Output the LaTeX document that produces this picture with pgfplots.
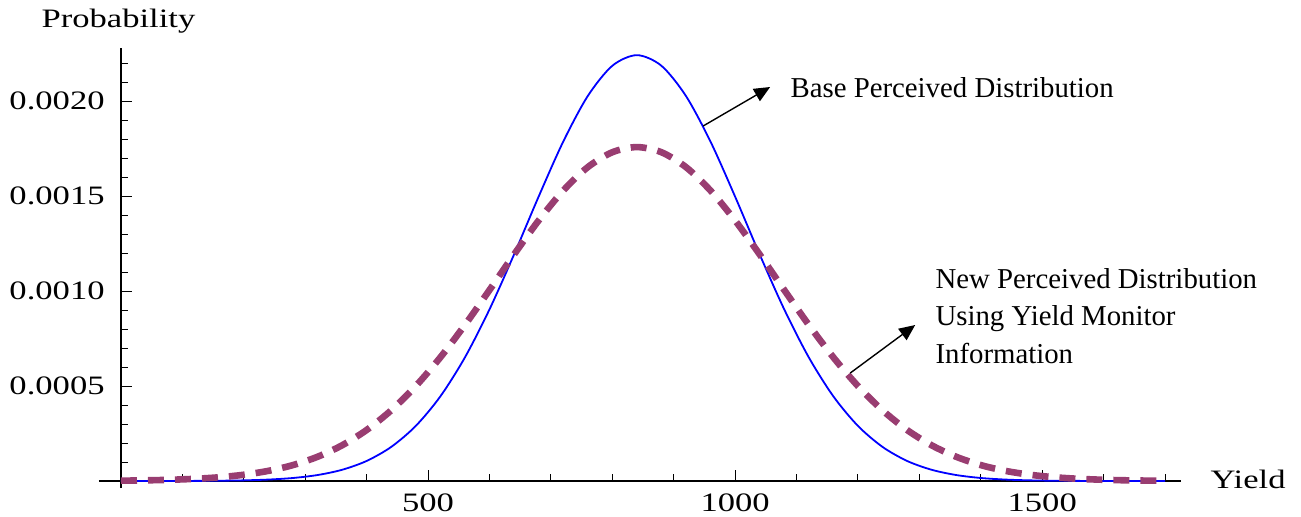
\documentclass[border=0pt]{standalone}
\usepackage{fontspec}
\setmainfont{Liberation Serif}
\usepackage{graphicx}
\usepackage{pgfplots}
\pgfplotsset{compat=1.18}
\usetikzlibrary{arrows.meta}

\definecolor{mmaPurple}{rgb}{0.6,0.24,0.442}
\newcommand\lab[1]{\scalebox{1.3}[1]{\fontsize{13.3pt}{16pt}\selectfont #1}}
\newcommand\note{\fontsize{14.4pt}{18pt}\selectfont}

\begin{document}
\begin{tikzpicture}
\useasboundingbox (-49.5pt,-14pt) rectangle (601pt,244pt);
\begin{axis}[
    scale only axis,
    width=541pt, height=220pt,
    axis lines=middle,
    axis line style={black, line width=0.6pt, -},
    xmin=-35.8, xmax=1726,
    ymin=-0.0000368, ymax=0.002279,
    xtick={500,1000,1500},
    xticklabels={\lab{500},\lab{1000},\lab{1500}},
    minor xtick={100,200,300,400,600,700,800,900,1100,1200,1300,1400,1600,1700},
    ytick={0.0005,0.0010,0.0015,0.0020},
    yticklabels={\lab{0.0005},\lab{0.0010},\lab{0.0015},\lab{0.0020}},
    minor ytick={0.0001,0.0002,0.0003,0.0004,0.0006,0.0007,0.0008,0.0009,0.0011,0.0012,0.0013,0.0014,0.0016,0.0017,0.0018,0.0019,0.0021,0.0022},
    scaled y ticks=false,
    tick align=inside,
    major tick length=5.5pt, minor tick length=3.5pt,
    tick style={black, line width=0.5pt},
    xticklabel style={anchor=north, inner sep=0pt, yshift=-6pt},
    yticklabel style={anchor=east, inner sep=0pt, xshift=-8pt},
    clip=false,
]
% base perceived distribution
\addplot[blue, line width=0.9pt, smooth] table {
x y
0 0.00000003
40 0.00000009
80 0.00000025
120 0.00000063
160 0.00000152
200 0.00000349
240 0.00000764
280 0.00001589
320 0.00003143
360 0.00005908
400 0.00010560
440 0.00017945
480 0.00028992
520 0.00044535
560 0.00065040
600 0.00090310
640 0.0011922
680 0.0014964
720 0.0017857
760 0.0020260
800 0.0021854
840 0.0022413
880 0.0021854
920 0.0020260
960 0.0017857
1000 0.0014964
1040 0.0011922
1080 0.00090310
1120 0.00065040
1160 0.00044535
1200 0.00028992
1240 0.00017945
1280 0.00010560
1320 0.00005908
1360 0.00003143
1400 0.00001589
1440 0.00000764
1480 0.00000349
1520 0.00000152
1560 0.00000063
1600 0.00000025
1640 0.00000009
1680 0.00000003
1700 0.00000002
};
% new perceived distribution
\addplot[mmaPurple, line width=3.3pt, smooth, dash pattern=on 8pt off 5.5pt] table {
x y
0 0.0000018684
40 0.0000035309
80 0.0000064692
120 0.000011490
160 0.000019784
200 0.000033023
240 0.000053435
280 0.000083822
320 0.00012747
360 0.00018792
400 0.00026857
440 0.00037209
480 0.00049975
520 0.00065069
560 0.00082132
600 0.0010050
640 0.0011922
680 0.0013709
720 0.0015283
760 0.0016517
800 0.0017304
840 0.0017575
880 0.0017304
920 0.0016517
960 0.0015283
1000 0.0013709
1040 0.0011922
1080 0.0010050
1120 0.00082132
1160 0.00065069
1200 0.00049975
1240 0.00037209
1280 0.00026857
1320 0.00018792
1360 0.00012747
1400 0.000083822
1440 0.000053435
1480 0.000033023
1520 0.000019784
1560 0.000011490
1600 0.0000064692
1640 0.0000035309
1680 0.0000018684
1700 0.0000013433
};
\node[anchor=base, inner sep=0pt] at (axis cs:-4.07,0.002389) {\lab{Probability}};
\node[anchor=base west, inner sep=0pt] at (axis cs:1773.6,-0.0000368) {\lab{Yield}};
\node[anchor=base west, inner sep=0pt] at (axis cs:1089.6,0.002021) {\note Base Perceived Distribution};
\node[anchor=base west, inner sep=0pt] at (axis cs:1325.7,0.0010158) {\note New Perceived Distribution};
\node[anchor=base west, inner sep=0pt] at (axis cs:1325.7,0.0008184) {\note Using Yield Monitor};
\node[anchor=base west, inner sep=0pt] at (axis cs:1325.7,0.0006211) {\note Information};
\draw[-{Triangle[length=8pt,width=7pt]}, line width=0.7pt] (axis cs:947.9,0.0018684) -- (axis cs:1057,0.0020737);
\draw[-{Triangle[length=8pt,width=7pt]}, line width=0.7pt] (axis cs:1187.3,0.000568) -- (axis cs:1293.2,0.000821);
\end{axis}
\end{tikzpicture}
\end{document}
